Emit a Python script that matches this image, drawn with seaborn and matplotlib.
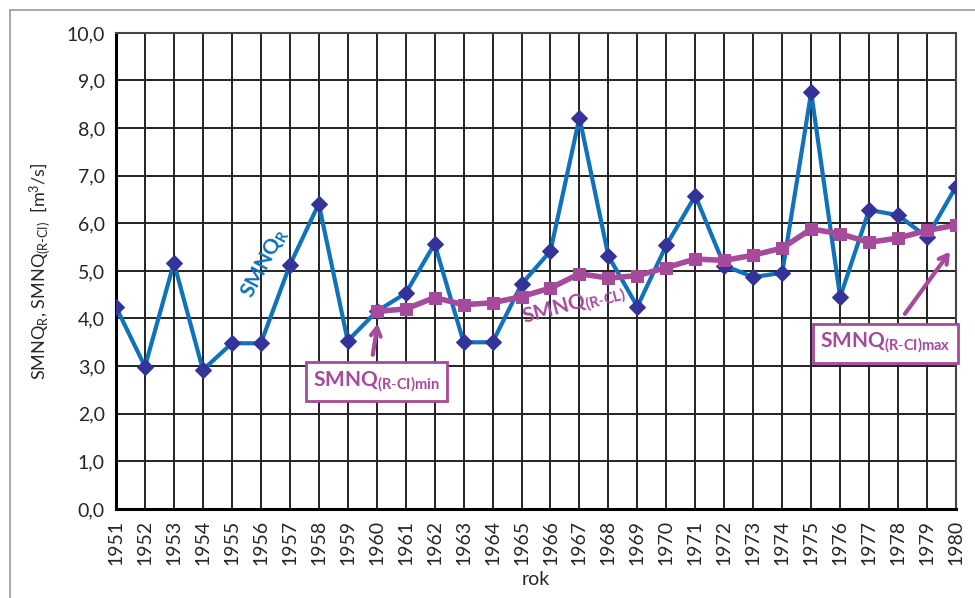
import matplotlib
matplotlib.use("Agg")
import matplotlib.pyplot as plt
from matplotlib.lines import Line2D
import numpy as np
import pandas as pd
import seaborn as sns

# data
years = list(range(1951, 1981))
smnq_r = [4.24, 2.99, 5.17, 2.92, 3.48, 3.48, 5.12, 6.41, 3.53, 4.15,
          4.53, 5.57, 3.50, 3.50, 4.72, 5.42, 8.22, 5.31, 4.25, 5.54,
          6.58, 5.11, 4.87, 4.96, 8.75, 4.45, 6.28, 6.17, 5.71, 6.77]
years_ci = list(range(1960, 1981))
smnq_ci = [4.15, 4.20, 4.44, 4.29, 4.33, 4.46, 4.64, 4.94, 4.85, 4.90,
           5.07, 5.25, 5.22, 5.33, 5.48, 5.88, 5.78, 5.60, 5.69, 5.85, 5.96]

df_r = pd.DataFrame({"rok": years, "q": smnq_r})
df_ci = pd.DataFrame({"rok": years_ci, "q": smnq_ci})

sns.set_style("white")
plt.rcParams["font.family"] = ["Lato", "DejaVu Sans"]
plt.rcParams["mathtext.fontset"] = "custom"
plt.rcParams["mathtext.rm"] = "Lato"
plt.rcParams["mathtext.it"] = "Lato"
plt.rcParams["mathtext.bf"] = "Lato:bold"

blue = "#0F72BA"
navy = "#33339A"
mag = "#A64A9C"

fig = plt.figure(figsize=(9.75, 5.98), dpi=100)
ax = fig.add_axes([0.119, 0.149, 0.8615, 0.796])

# outer chart frame
fig.add_artist(Line2D([0.0103, 0.0103], [0.0, 0.983], color="#999999", lw=1.2))
fig.add_artist(Line2D([0.0103, 1.0], [0.983, 0.983], color="#999999", lw=1.2))

sns.lineplot(data=df_r, x="rok", y="q", ax=ax, color=blue, lw=3,
             marker="D", markersize=8.5, markerfacecolor=navy,
             markeredgecolor=navy, zorder=3)
sns.lineplot(data=df_ci, x="rok", y="q", ax=ax, color=mag, lw=4,
             marker="s", markersize=8, markerfacecolor=mag,
             markeredgecolor=mag, zorder=4)

ax.set_xlim(1951, 1980)
ax.set_ylim(0, 10)
ax.set_xticks(years)
ax.set_xticklabels([str(y) for y in years], rotation=90)
ax.set_yticks(np.arange(0, 10.5, 1.0))
ax.set_yticklabels([f"{v:.1f}".replace(".", ",") for v in np.arange(0, 10.5, 1.0)])
ax.tick_params(axis="both", labelsize=14, length=5, width=1.5,
               color="black", direction="out", pad=3)
ax.grid(True, color="#222222", lw=1.4)
ax.set_axisbelow(True)
for s in ["left", "bottom"]:
    ax.spines[s].set_color("black")
    ax.spines[s].set_linewidth(2.2)
for s in ["top", "right"]:
    ax.spines[s].set_color("#444444")
    ax.spines[s].set_linewidth(1.5)

ax.set_xlabel("rok", fontsize=14, labelpad=4)
ax.set_ylabel(r"SMNQ$_{\mathrm{R}}$, SMNQ$_{\mathrm{(R\text{-}CI)}}$  [m$^{3}$/s]",
              fontsize=13, labelpad=10)

# annotations
ax.text(1956.15, 5.15, r"$\mathbf{SMNQ_{R}}$", color=blue, fontsize=15,
        rotation=62, ha="center", va="center")
ax.text(1966.8, 4.27, r"$\mathbf{SMNQ}_{\mathbf{(R\text{-}CL)}}$", color=mag,
        fontsize=15, rotation=15, ha="center", va="center")

box = dict(boxstyle="square,pad=0.35", fc="white", ec=mag, lw=2)
ax.text(1959.98, 2.67, r"$\mathbf{SMNQ}_{\mathbf{(R\text{-}CI)min}}$", color=mag,
        fontsize=15, ha="center", va="center", bbox=box, zorder=6)
ax.text(1977.56, 3.48, r"$\mathbf{SMNQ}_{\mathbf{(R\text{-}CI)max}}$", color=mag,
        fontsize=15, ha="center", va="center", bbox=box, zorder=6)

arrow = dict(arrowstyle="->,head_length=0.6,head_width=0.35", color=mag, lw=3)
ax.annotate("", xy=(1960.05, 3.95), xytext=(1959.85, 3.18), arrowprops=arrow, zorder=6)
ax.annotate("", xy=(1979.85, 5.45), xytext=(1978.18, 4.05), arrowprops=arrow, zorder=6)

fig.savefig("out.png", dpi=100)
